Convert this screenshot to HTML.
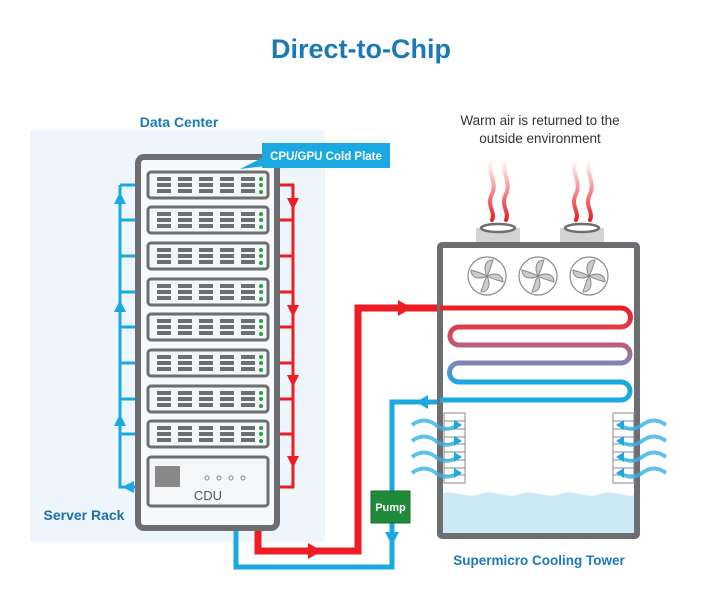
<!DOCTYPE html>
<html><head><meta charset="utf-8"><style>
html,body{margin:0;padding:0;background:#fff;}
svg{display:block;font-family:"Liberation Sans",sans-serif;}
</style></head><body>
<svg width="721" height="600" viewBox="0 0 721 600" xmlns="http://www.w3.org/2000/svg">
<defs>
<linearGradient id="coil" x1="0" y1="308" x2="0" y2="400" gradientUnits="userSpaceOnUse">
<stop offset="0" stop-color="#ee1c25"/><stop offset="0.3" stop-color="#d84a5a"/><stop offset="0.6" stop-color="#7f86b8"/><stop offset="0.8" stop-color="#1aa9e0"/><stop offset="1" stop-color="#1aa9e0"/>
</linearGradient>
<linearGradient id="steam" x1="0" y1="160" x2="0" y2="220" gradientUnits="userSpaceOnUse">
<stop offset="0" stop-color="#ee1c25" stop-opacity="0"/><stop offset="1" stop-color="#ee1c25"/>
</linearGradient>
<g id="srv">
<rect x="0" y="0" width="120" height="26" rx="3" fill="#f4f6f8" stroke="#6d6e71" stroke-width="3"/>
<g fill="#6d6e71">
<rect x="9" y="5" width="14" height="4"/><rect x="9" y="11" width="14" height="4"/><rect x="9" y="17" width="14" height="4"/>
<rect x="30" y="5" width="14" height="4"/><rect x="30" y="11" width="14" height="4"/><rect x="30" y="17" width="14" height="4"/>
<rect x="51" y="5" width="14" height="4"/><rect x="51" y="11" width="14" height="4"/><rect x="51" y="17" width="14" height="4"/>
<rect x="72" y="5" width="14" height="4"/><rect x="72" y="11" width="14" height="4"/><rect x="72" y="17" width="14" height="4"/>
<rect x="93" y="5" width="14" height="4"/><rect x="93" y="11" width="14" height="4"/><rect x="93" y="17" width="14" height="4"/>
</g>
<circle cx="113" cy="7" r="2" fill="#22a33a"/><circle cx="113" cy="13" r="2" fill="#22a33a"/><circle cx="113" cy="20" r="2" fill="#22a33a"/>
</g>
<g id="fan">
<circle r="19" fill="#fff" stroke="#8a8a8a" stroke-width="1.2"/>
<path d="M0 0 C-4 -8 -2 -16 6 -16 C4 -10 3 -5 0 0Z" fill="#ccc" stroke="#888" stroke-width="1"/>
<path d="M0 0 C8 -4 16 -2 16 6 C10 4 5 3 0 0Z" fill="#ccc" stroke="#888" stroke-width="1"/>
<path d="M0 0 C4 8 2 16 -6 16 C-4 10 -3 5 0 0Z" fill="#ccc" stroke="#888" stroke-width="1"/>
<path d="M0 0 C-8 4 -16 2 -16 -6 C-10 -4 -5 -3 0 0Z" fill="#ccc" stroke="#888" stroke-width="1"/>
</g>
<g id="airL">
<path d="M-40 0 C-32 -6 -24 -6 -16 0 C-8 6 0 4 6 0" fill="none" stroke="#3ab0e2" stroke-width="4" stroke-opacity="0.8"/>
<path d="M2 -5 L10 0 L2 5Z" fill="#1aa9e0"/>
</g>
</defs>

<text x="361" y="58" text-anchor="middle" font-size="27" font-weight="bold" fill="#1a7ab8">Direct-to-Chip</text>

<rect x="30" y="130" width="295" height="412" fill="#eef6fb"/>
<text x="179" y="127" text-anchor="middle" font-size="14" font-weight="bold" fill="#1a7ab8">Data Center</text>
<text x="84" y="520" text-anchor="middle" font-size="14" font-weight="bold" fill="#1a6fa8">Server Rack</text>

<!-- bottom pipes -->
<path d="M236 506 V567 H392 V402 H440" fill="none" stroke="#1aa9e0" stroke-width="5"/>
<path d="M258 506 V551 H358 V308 H440" fill="none" stroke="#ee1c25" stroke-width="7"/>
<path d="M308 543 L322 551 L308 559Z" fill="#ee1c25"/>
<path d="M398 300 L412 308 L398 316Z" fill="#ee1c25"/>
<path d="M428 395 L416 402 L428 409Z" fill="#1aa9e0"/>
<path d="M385 532 L392 545 L399 532Z" fill="#1aa9e0"/>
<rect x="371" y="491" width="39" height="32" fill="#1f8a3a" stroke="#186e2e"/>
<text x="390.5" y="511" text-anchor="middle" font-size="11" font-weight="bold" fill="#fff">Pump</text>

<!-- rack pipes -->
<g fill="none" stroke="#1aa9e0" stroke-width="3">
<path d="M120 185 V487 H148"/>
<path d="M120 185 H148 M120 220 H148 M120 256 H148 M120 292 H148 M120 327 H148 M120 363 H148 M120 399 H148 M120 434 H148"/>
</g>
<g fill="#1aa9e0">
<path d="M114 204 L120 192 L126 204Z"/><path d="M114 312 L120 300 L126 312Z"/><path d="M114 426 L120 414 L126 426Z"/>
<path d="M134 481 L122 487 L134 493Z"/>
</g>
<g fill="none" stroke="#ee1c25" stroke-width="3">
<path d="M268 185 H293 V487 H268"/>
<path d="M268 220 H293 M268 256 H293 M268 292 H293 M268 327 H293 M268 363 H293 M268 399 H293 M268 434 H293"/>
</g>
<g fill="#ee1c25">
<path d="M287 198 L293 210 L299 198Z"/><path d="M287 305 L293 317 L299 305Z"/><path d="M287 375 L293 387 L299 375Z"/><path d="M287 456 L293 468 L299 456Z"/>
</g>

<rect x="138" y="157" width="139" height="371" rx="6" fill="#f7f9fa" stroke="#6d6e71" stroke-width="6"/>
<use href="#srv" x="148" y="172"/><use href="#srv" x="148" y="207"/><use href="#srv" x="148" y="243"/><use href="#srv" x="148" y="279"/>
<use href="#srv" x="148" y="314"/><use href="#srv" x="148" y="350"/><use href="#srv" x="148" y="386"/><use href="#srv" x="148" y="421"/>
<rect x="148" y="457" width="120" height="49" rx="3" fill="#f4f6f8" stroke="#6d6e71" stroke-width="3"/>
<rect x="155" y="466" width="25" height="21" fill="#888"/>
<g fill="none" stroke="#888" stroke-width="1"><circle cx="207" cy="478" r="2"/><circle cx="219" cy="478" r="2"/><circle cx="231" cy="478" r="2"/><circle cx="243" cy="478" r="2"/></g>
<text x="208" y="500" text-anchor="middle" font-size="13" fill="#555">CDU</text>

<path d="M240 169 L262 158 L275 165Z" fill="#1aa9e0"/>
<rect x="262" y="143" width="128" height="25" fill="#1aa9e0"/>
<text x="326" y="160" text-anchor="middle" font-size="11.5" font-weight="bold" fill="#fff">CPU/GPU Cold Plate</text>

<!-- tower -->
<text x="540" y="125" text-anchor="middle" font-size="13.5" fill="#333">Warm air is returned to the</text>
<text x="540" y="143" text-anchor="middle" font-size="13.5" fill="#333">outside environment</text>
<g fill="none" stroke="url(#steam)" stroke-width="4" stroke-linecap="round">
<path d="M492 160 C486 172 498 182 492 194 C486 206 496 212 492 220"/>
<path d="M506 160 C500 172 512 182 506 194 C500 206 510 212 506 220"/>
<path d="M576 160 C570 172 582 182 576 194 C570 206 580 212 576 220"/>
<path d="M590 160 C584 172 596 182 590 194 C584 206 594 212 590 220"/>
</g>
<rect x="476" y="228" width="44" height="15" fill="#d3d3d3"/>
<rect x="560" y="228" width="44" height="15" fill="#d3d3d3"/>
<ellipse cx="498" cy="228" rx="17" ry="4" fill="#fff" stroke="#6d6e71" stroke-width="2.5"/>
<ellipse cx="582" cy="228" rx="17" ry="4" fill="#fff" stroke="#6d6e71" stroke-width="2.5"/>
<path d="M440 494 C455 488 465 500 480 494 C495 488 505 500 520 494 C535 488 545 500 560 494 C575 488 585 500 600 494 C615 488 625 500 638 494 V536 H440Z" fill="#cde9f6"/>
<rect x="440" y="245" width="197" height="291" fill="none" stroke="#6d6e71" stroke-width="6" rx="2"/>
<use href="#fan" x="487" y="276"/><use href="#fan" x="538" y="276"/><use href="#fan" x="589" y="276"/>
<path d="M440 308 H621 A9.5 9.5 0 0 1 621 327 H459 A9 9 0 0 0 459 345 H621 A9 9 0 0 1 621 363 H459 A9.5 9.5 0 0 0 459 382 H621 A9 9 0 0 1 621 400 H440" fill="none" stroke="url(#coil)" stroke-width="5"/>
<g stroke="#888" stroke-width="1" fill="#fff">
<rect x="444" y="413" width="21" height="70"/><rect x="613" y="413" width="21" height="70"/>
</g>
<g stroke="#888" stroke-width="1">
<path d="M444 421 H465 M444 429 H465 M444 437 H465 M444 444 H465 M444 452 H465 M444 460 H465 M444 468 H465 M444 475 H465"/>
<path d="M613 421 H634 M613 429 H634 M613 437 H634 M613 444 H634 M613 452 H634 M613 460 H634 M613 468 H634 M613 475 H634"/>
</g>
<use href="#airL" x="452" y="425"/><use href="#airL" x="452" y="441"/><use href="#airL" x="452" y="457"/><use href="#airL" x="452" y="473"/>
<g transform="translate(1078 0) scale(-1 1)">
<use href="#airL" x="452" y="425"/><use href="#airL" x="452" y="441"/><use href="#airL" x="452" y="457"/><use href="#airL" x="452" y="473"/>
</g>
<text x="539" y="565" text-anchor="middle" font-size="13.5" font-weight="bold" fill="#1a7ab8">Supermicro Cooling Tower</text>
</svg>
</body></html>
